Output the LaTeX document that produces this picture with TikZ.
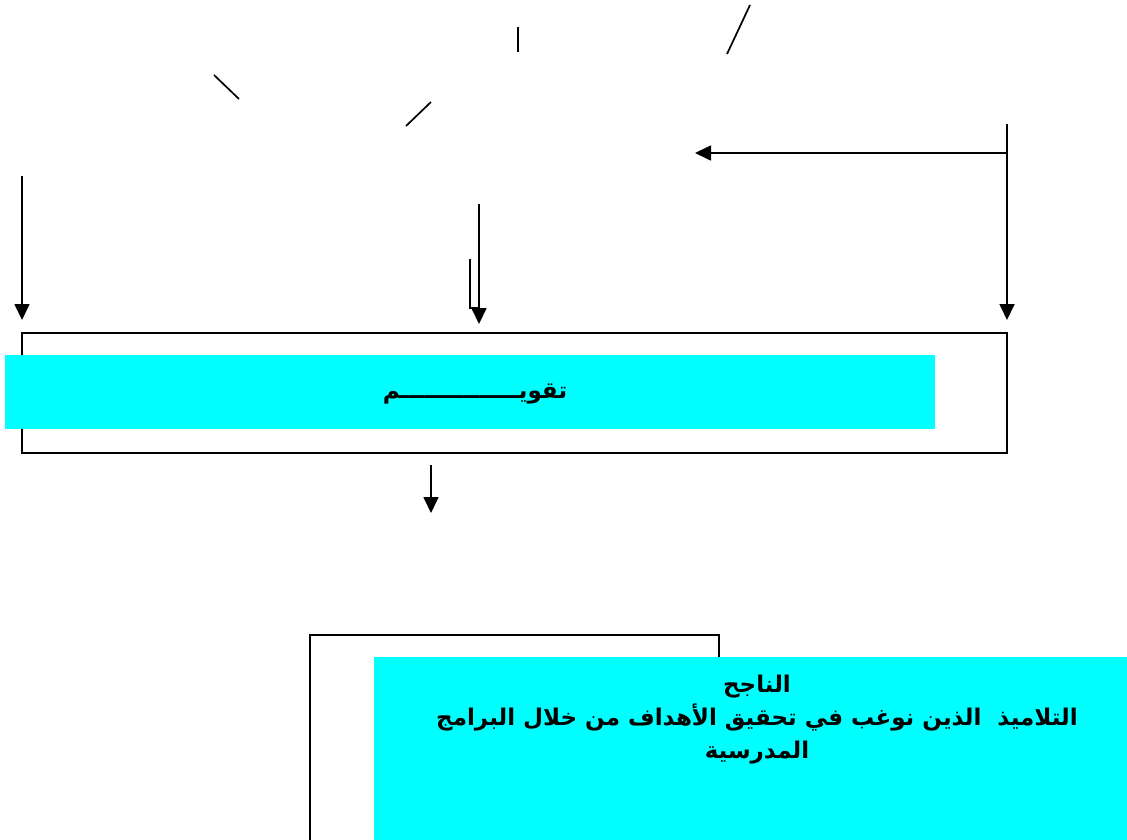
\documentclass[tikz,border=0pt]{standalone}
\usepackage{fontspec}
\newfontfamily\arabicfont[Script=Arabic]{DejaVu Sans}
\TeXXeTstate=1
\usepackage{xcolor}
\usetikzlibrary{arrows.meta, positioning, calc}
\definecolor{barcyan}{RGB}{0,255,255}

\begin{document}
\begin{tikzpicture}[x=1pt, y=-1pt,
    frame/.style={draw, black, line width=1.7pt, inner sep=0pt, outer sep=0pt, anchor=north west},
    bar/.style={fill=barcyan, inner sep=0pt, outer sep=0pt, anchor=north west},
    flow/.style={-{Triangle[length=16pt, width=15pt]}, black, line width=1.7pt},
    tick/.style={black, line width=1.7pt},
    every node/.style={font=\arabicfont\bfseries\fontsize{23}{33}\selectfont}]

                \useasboundingbox (0,0) rectangle (1127,839);
                \clip (0,0) rectangle (1127,839);

                \coordinate (lsrc) at (22,176);
                \coordinate (msrc) at (479,204);
                \coordinate (rtop) at (1007,124);
                \coordinate (rjoin) at (1007,153);
                \coordinate (rtip) at (695,153);
                \coordinate (dsrc) at (431,465);
                \coordinate (dtip) at (431,513);

                \node[frame, minimum width=985pt, minimum height=120pt] (evalframe) at (22,333) {};
                \node[bar, minimum width=930pt, minimum height=74pt] (evalbar) at (5,355) {};
                \node (evaltext) at (475,394) {\beginR تقويـــــــــــــــم\endR};

                \node[frame, minimum width=409pt, minimum height=260pt] (resultframe) at (310,635) {};
                \node[bar, minimum width=762pt, minimum height=220pt] (resultbar) at (374,657) {};
                \node[align=center, anchor=north] (resulttext) at (757,671)
                    {\beginR الناجح\endR\\
                     \beginR التلاميذ~~الذين نوغب في تحقيق الأهداف من خلال البرامج\endR\\
                     \beginR المدرسية\endR};

                \draw [tick] (214,75) -- (239,99);
                \draw [tick] (406,126) -- (431,102);
                \draw [tick] (518,27) -- (518,52);
                \draw [tick] (727,54) -- (750,5);

                \draw [flow, shorten >=13pt] (lsrc) -- (lsrc |- evalframe.north);
                \draw [flow, shorten >=9pt] (msrc) -- (msrc |- evalframe.north);
                \draw [tick] (470,259) -- (470,308) -- (479,308);

                \draw [tick] (rtop) -- (rjoin);
                \draw [flow] (rjoin) -- (rtip);
                \draw [flow, shorten >=13pt] (rjoin) -- (evalframe.north east);

                \draw [flow] (dsrc) -- (dtip);

            \end{tikzpicture}
\end{document}
